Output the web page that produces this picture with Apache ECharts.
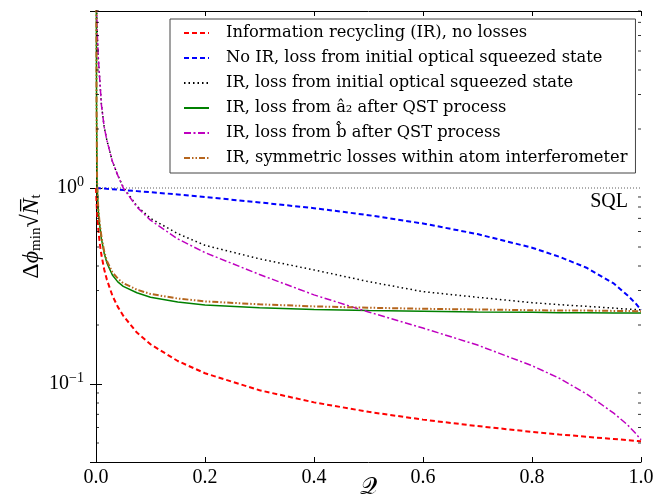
<!DOCTYPE html>
<html>
<head>
<meta charset="utf-8">
<script src="https://cdn.jsdelivr.net/npm/echarts@6/dist/echarts.min.js"></script>
<style>
html,body{margin:0;padding:0;background:#fff;}
#chart{width:668px;height:502px;}
</style>
</head>
<body>
<div id="chart"></div>
<script>
// ---- data ----
const qGrid = [0, 0.0005, 0.001, 0.002, 0.004, 0.006, 0.008, 0.01, 0.015, 0.02, 0.03, 0.04, 0.05, 0.075, 0.1, 0.15, 0.2, 0.3, 0.4, 0.5, 0.6, 0.7, 0.8, 0.85, 0.9, 0.95, 0.975, 0.99, 1.0];

const irNoLoss   = [1.0, 0.916, 0.85, 0.752, 0.628, 0.551, 0.496, 0.455, 0.385, 0.34, 0.283, 0.2475, 0.223, 0.183, 0.1595, 0.131, 0.1135, 0.0929, 0.0806, 0.0721, 0.0658, 0.061, 0.057, 0.0553, 0.0538, 0.0524, 0.0517, 0.0513, 0.051];
const noIrLoss   = [1.0, 1.0, 0.9995, 0.999, 0.998, 0.997, 0.996, 0.995, 0.993, 0.99, 0.986, 0.981, 0.976, 0.964, 0.952, 0.927, 0.9, 0.844, 0.789, 0.727, 0.659, 0.582, 0.496, 0.446, 0.392, 0.326, 0.284, 0.258, 0.239];
const irInitLoss = [null, 14, 9, 6.5, 4.7, 3.9, 3.2, 2.65, 2.05, 1.75, 1.37, 1.16, 1.01, 0.81, 0.70, 0.585, 0.51, 0.435, 0.382, 0.333, 0.296, 0.277, 0.260, 0.254, 0.249, 0.244, 0.241, 0.240, 0.239];
const irA2Loss   = [null, 12, 2.6, 1.05, 0.78, 0.67, 0.61, 0.55, 0.465, 0.415, 0.36, 0.332, 0.315, 0.292, 0.277, 0.262, 0.253, 0.245, 0.240, 0.237, 0.235, 0.233, 0.232, 0.231, 0.231, 0.230, 0.230, 0.230, 0.230];
const irBLoss    = [null, 14, 9, 6.5, 4.7, 3.9, 3.2, 2.65, 2.05, 1.75, 1.37, 1.16, 1.0, 0.80, 0.685, 0.55, 0.468, 0.362, 0.285, 0.233, 0.193, 0.158, 0.124, 0.107, 0.089, 0.071, 0.062, 0.056, 0.052];
const irSymLoss  = [null, 12, 2.7, 1.08, 0.80, 0.69, 0.625, 0.565, 0.475, 0.425, 0.372, 0.345, 0.327, 0.303, 0.288, 0.273, 0.264, 0.255, 0.249, 0.245, 0.242, 0.240, 0.238, 0.237, 0.237, 0.236, 0.236, 0.235, 0.235];

const seriesNames = [
  'Information recycling (IR), no losses',
  'No IR, loss from initial optical squeezed state',
  'IR, loss from initial optical squeezed state',
  'IR, loss from \u00e2\u2082 after QST process',
  'IR, loss from b\u0302 after QST process',
  'IR, symmetric losses within atom interferometer'
];

const sqlQ = [0, 1];
const sqlLevel = [1, 1];
const sqlText = 'SQL';

const yMinorTicks = [0.05, 0.06, 0.07, 0.08, 0.09, 0.2, 0.3, 0.4, 0.5, 0.6, 0.7, 0.8, 0.9, 2, 3, 4, 5, 6, 7, 8];

// ---- build ----
function pairs(ys) { return qGrid.map((q, i) => [q, ys[i]]); }

const SERIF = '"Liberation Serif", "DejaVu Serif", serif';
const LSERIF = '"DejaVu Serif", "Liberation Serif", serif';

function lineSeries(name, ys, color, type, width) {
  return {
    name: name, type: 'line', data: pairs(ys), showSymbol: false, symbol: 'none',
    smooth: false, clip: true, connectNulls: false,
    lineStyle: { color: color, width: width, type: type },
    itemStyle: { color: color },
    silent: true, z: 3
  };
}

const series = [
  lineSeries(seriesNames[0], irNoLoss, '#ff0000', [5, 3], 2),
  lineSeries(seriesNames[1], noIrLoss, '#0000ff', [5, 3], 2),
  lineSeries(seriesNames[2], irInitLoss, '#000000', [1.5, 3], 1.5),
  lineSeries(seriesNames[3], irA2Loss, '#008000', 'solid', 1.5),
  lineSeries(seriesNames[4], irBLoss, '#bf00bf', [7, 2.5, 2, 2.5], 1.5),
  lineSeries(seriesNames[5], irSymLoss, '#b5651d', [6, 2, 1.5, 2, 1.5, 2], 2),
  {
    name: 'SQL', type: 'line', showSymbol: false, symbol: 'none',
    silent: true, z: 2,
    data: sqlQ.map((q, i) => [q, sqlLevel[i]]),
    endLabel: {
      show: true, formatter: sqlText, align: 'right', verticalAlign: 'top',
      distance: 0, offset: [-13, 4],
      fontFamily: SERIF, fontSize: 20, color: '#000'
    },
    lineStyle: { color: '#333', width: 0.8, type: [1, 2] }
  },
  {
    type: 'scatter', silent: true, z: 5, xAxisIndex: 0, yAxisIndex: 0,
    data: yMinorTicks.map(v => [0, v]),
    symbol: 'rect', symbolSize: [3, 1], symbolOffset: [1.5, 0],
    itemStyle: { color: '#000' }
  },
  {
    type: 'scatter', silent: true, z: 5, xAxisIndex: 0, yAxisIndex: 0,
    data: yMinorTicks.map(v => [1, v]),
    symbol: 'rect', symbolSize: [3, 1], symbolOffset: [-1.5, 0],
    itemStyle: { color: '#000' }
  }
];

function decadeLabel(v) {
  const l = Math.log10(v);
  const r = Math.round(l);
  if (Math.abs(l - r) > 1e-6) return '';
  if (r !== 0 && r !== -1) return '';
  return '{b|10}{sup|' + (r < 0 ? '\u2212' + (-r) : r) + '}';
}

const axisLineStyle = { show: true, lineStyle: { color: '#000', width: 1 } };

const option = {
  animation: false,
  backgroundColor: '#fff',
  grid: { left: 96, right: 27, top: 11, bottom: 40, containLabel: false, outerBoundsMode: 'none' },
  legend: {
    data: seriesNames,
    orient: 'vertical',
    left: 170, top: 19,
    padding: [5, 8, 6, 13],
    itemGap: 7,
    itemWidth: 25, itemHeight: 18,
    backgroundColor: '#fff',
    borderColor: '#444', borderWidth: 1,
    selectedMode: false,
    itemStyle: { opacity: 0, borderWidth: 0 },
    textStyle: {
      fontFamily: LSERIF, fontSize: 16.3, lineHeight: 18, color: '#000', padding: [0, 0, 0, 12]
    }
  },
  xAxis: [{
    type: 'value', min: 0, max: 1, interval: 0.2, position: 'bottom',
    name: '\ud835\udcac', nameLocation: 'middle', nameGap: 26, nameMoveOverlap: false,
    nameTextStyle: { fontFamily: SERIF, fontSize: 24, lineHeight: 24, verticalAlign: 'middle', color: '#000' },
    axisLine: axisLineStyle,
    axisTick: { show: true, inside: true, length: 5, lineStyle: { color: '#000' } },
    axisLabel: { fontFamily: SERIF, fontSize: 20, color: '#000', margin: 6,
                 formatter: v => v.toFixed(1) },
    splitLine: { show: false }
  }, {
    type: 'value', min: 0, max: 1, interval: 0.2, position: 'top',
    axisLine: axisLineStyle,
    axisTick: { show: true, inside: true, length: 5, lineStyle: { color: '#000' } },
    axisLabel: { show: false }, splitLine: { show: false }
  }],
  yAxis: [{
    type: 'log', logBase: 10, min: 0.04, max: 8, position: 'left',
    name: '{d|\u0394}{it|\u03d5}{sub|min}{d|\u221a}{it|N\u0305}{sub|t}',
    nameLocation: 'middle', nameRotate: 90, nameGap: 52, nameMoveOverlap: false,
    nameTextStyle: {
      fontFamily: SERIF, fontSize: 24, color: '#000',
      rich: {
        d: { fontFamily: SERIF, fontSize: 24, color: '#000' },
        it: { fontFamily: SERIF, fontSize: 24, fontStyle: 'italic', color: '#000' },
        sub: { fontFamily: SERIF, fontSize: 15, color: '#000', verticalAlign: 'bottom', padding: [8, 0, 0, 0] }
      }
    },
    axisLine: axisLineStyle,
    axisTick: { show: true, inside: true, length: 6, lineStyle: { color: '#000' } },
    axisLabel: {
      fontFamily: SERIF, fontSize: 20, color: '#000', margin: 12,
      showMinLabel: false, showMaxLabel: false,
      formatter: decadeLabel,
      rich: {
        b: { fontFamily: SERIF, fontSize: 20, color: '#000' },
        sup: { fontFamily: SERIF, fontSize: 14, color: '#000', verticalAlign: 'bottom', padding: [0, 0, 12, 0] }
      }
    },
    splitLine: { show: false }
  }, {
    type: 'log', logBase: 10, min: 0.04, max: 8, position: 'right',
    axisLine: axisLineStyle,
    axisTick: { show: true, inside: true, length: 6, lineStyle: { color: '#000' } },
    axisLabel: { show: false }, splitLine: { show: false }
  }],
  series: series
};

const chart = echarts.init(document.getElementById('chart'), null, { renderer: 'canvas' });
chart.setOption(option);
</script>
</body>
</html>
